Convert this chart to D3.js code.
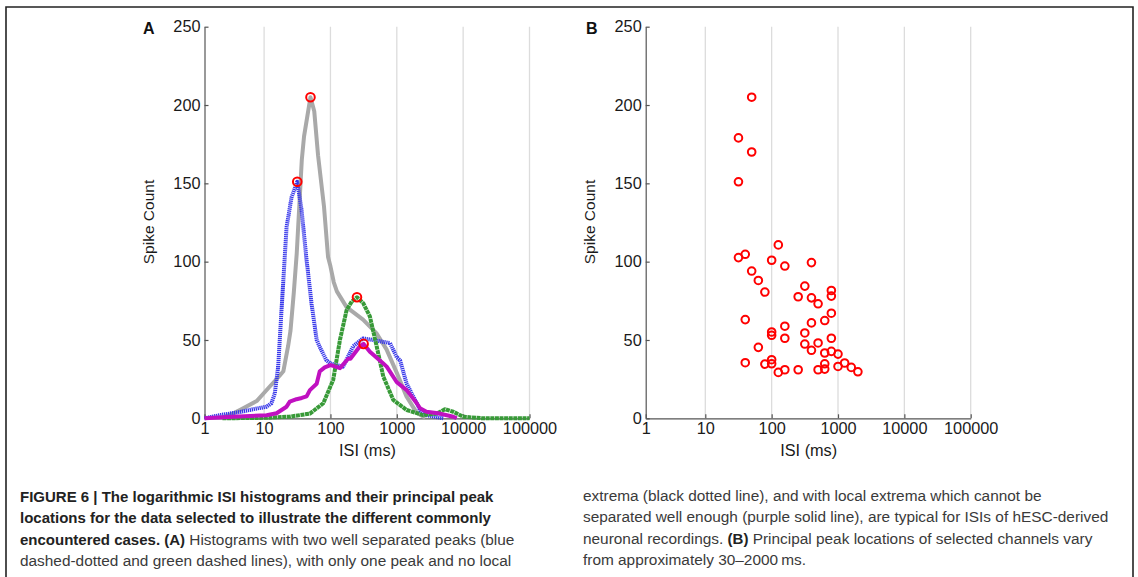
<!DOCTYPE html>
<html>
<head>
<meta charset="utf-8">
<script src="https://cdn.jsdelivr.net/npm/d3@7"></script>
<style>
  body { margin: 0; background: #fff; }
  svg text { font-family: "Liberation Sans", Arial, sans-serif; }
  .caption { font-size: 15.4px; fill: #333; }
</style>
</head>
<body>
<div id="fig"></div>
<script>
// ISI histograms, pairs of [ISI ms, spike count]
var grayCurve = [[2,0.5],[3,3],[4,5.5],[7.5,11],[12,20],[17,27],[19.5,30],[23,46],[25,56],[28,80],[31,105],[37,165],[40,180],[50,205],[57,196],[65,168],[80,135],[92,103],[100,97],[112,87],[125,81],[175,71],[310,63],[500,54],[700,44],[1000,29],[1400,14],[2000,3.5],[2700,0.3]];
var blueCurve = [[1,0],[1.8,2],[3.9,4],[7,6],[10.9,7.4],[12.9,9.6],[14.5,16],[16.3,33],[18.3,69],[21.8,122],[25.9,141],[31.6,151],[36.7,133],[43.7,101],[52,73],[62,50],[70,45],[87,37],[100,35],[125,34],[155,33],[220,46],[310,51],[440,50],[790,48],[1000,39],[1120,37],[1410,22],[2000,9.6],[2250,5],[2800,2],[5000,0]];
var greenCurve = [[2,0],[10,0.3],[24,1],[49,3],[78,9.6],[110,24.5],[139,50],[175,69],[209,74.5],[251,77.3],[312,73.5],[393,65],[497,46],[626,26.6],[885,11.7],[1410,5.3],[2500,2],[4000,3],[5300,5.8],[7100,4.2],[10000,1],[20000,0],[100000,0]];
var purpleCurve = [[1,0],[3,1],[10.9,2],[15.4,3.2],[21.8,7.4],[24.4,10.6],[30.8,12.2],[37,13],[43.7,14],[49,18],[62,22],[69,30],[82,32.5],[100,34],[110,33.4],[139,32],[185,38],[200,38],[278,46],[316,47.5],[393,42.5],[626,35],[705,33],[1000,23],[1410,18],[2000,9.6],[2240,6.4],[2800,4.2],[4200,3.2],[7100,1],[8000,0]];

// principal peaks in panel A
var peaksA = [[50,205],[31.6,151],[251,77.3],[316,47.5]];

// panel B peak locations
var peakISI = [50,31.6,50,31.6,31.6,40,126,100,158,398,50,63,79,316,251,398,501,794,794,794,631,398,40,158,100,100,316,158,794,316,501,398,63,631,794,1000,40,79,100,100,126,158,251,501,631,631,1000,1259,1585,1995];
var peakCount = [205,179,170,151,102.6,104.7,110.7,100.9,97.2,99.4,94,88,80.6,84.4,77.6,76.9,73.1,81.6,78,67.1,62.4,60.9,63,58.8,55.1,53,54.5,51.1,51.1,47.4,48.1,43.4,45.3,41.7,42.7,41,35.5,34.6,37.4,34.8,29.3,31,31,31,34.8,31.4,33.1,35.3,32.5,29.7];

var xTicks = [1,10,100,1000,10000,100000];
var yTicks = [0,50,100,150,200,250];

var svgWidth = 1138;
var svgHeight = 577;
var plotTop = 26.7, plotBottom = 418.3;

var svg = d3.select("#fig")
    .append("svg")
    .attr("width", svgWidth)
    .attr("height", svgHeight);

// frame around the figure
svg.append("path")
    .attr("d", "M6," + svgHeight + "V7H1133V" + svgHeight)
    .attr("fill", "none")
    .attr("stroke", "#222")
    .attr("stroke-width", 1.6);

var yScale = d3.scaleLinear()
    .domain([0, 250])
    .range([plotBottom, plotTop]);

function makePanel(left, letter, labelX) {
    // first decade is a bit narrower in the original figure
    var x = d3.scaleLog()
        .domain([1, 10, 100000])
        .range([left, left + 59.6, left + 325]);

    var g = svg.append("g");

    // vertical grid
    g.selectAll("line.grid")
        .data(xTicks.slice(1))
        .enter()
        .append("line")
        .attr("x1", d => x(d))
        .attr("x2", d => x(d))
        .attr("y1", plotTop)
        .attr("y2", plotBottom)
        .attr("stroke", "#dcdcdc")
        .attr("stroke-width", 1.3);

    var xAxis = d3.axisBottom(x)
        .tickValues(xTicks)
        .tickFormat(d3.format("d"))
        .tickSizeInner(-4)
        .tickSizeOuter(0)
        .tickPadding(4);
    var yAxis = d3.axisLeft(yScale)
        .tickValues(yTicks)
        .tickSizeInner(-4)
        .tickSizeOuter(0)
        .tickPadding(4);

    var gx = g.append("g")
        .attr("transform", `translate(0, ${plotBottom})`)
        .call(xAxis);
    var gy = g.append("g")
        .attr("transform", `translate(${left}, 0)`)
        .call(yAxis);

    [gx, gy].forEach(a => {
        a.selectAll("path, line").attr("stroke", "#555").attr("stroke-width", 1.2);
        a.selectAll("text").attr("font-size", 16.3).attr("fill", "#1a1a1a")
            .attr("font-family", "'Liberation Sans', Arial, sans-serif");
    });

    g.append("text")
        .attr("x", left + 163)
        .attr("y", 456)
        .attr("text-anchor", "middle")
        .attr("font-size", 16.3)
        .attr("fill", "#1a1a1a")
        .text("ISI (ms)");

    g.append("text")
        .attr("transform", `translate(${left - 51}, 222) rotate(-90)`)
        .attr("text-anchor", "middle")
        .attr("font-size", 15.5)
        .attr("fill", "#1a1a1a")
        .text("Spike Count");

    g.append("text")
        .attr("x", labelX)
        .attr("y", 34)
        .attr("font-size", 16)
        .attr("font-weight", "bold")
        .attr("fill", "#111")
        .text(letter);

    return x;
}

var xA = makePanel(204.5, "A", 143);
var xB = makePanel(645.7, "B", 586);

// histogram lines
var lineA = d3.line()
    .x(d => xA(d[0]))
    .y(d => yScale(d[1]));

var curves = [
    {data: grayCurve, color: "#a9a9a9", dash: null},
    {data: blueCurve, color: "#3838ea", dash: "1.3,0.7"},
    {data: greenCurve, color: "#389a38", dash: "4,0.6"},
    {data: purpleCurve, color: "#c010c0", dash: null}
];

curves.forEach(c => {
    svg.append("path")
        .datum(c.data)
        .attr("d", lineA)
        .attr("fill", "none")
        .attr("stroke", c.color)
        .attr("stroke-width", 4)
        .attr("stroke-linejoin", "round")
        .attr("stroke-dasharray", c.dash);
});

svg.selectAll("circle.peakA")
    .data(peaksA)
    .enter()
    .append("circle")
    .attr("cx", d => xA(d[0]))
    .attr("cy", d => yScale(d[1]))
    .attr("r", 4.3)
    .attr("fill", "none")
    .attr("stroke", "#f00")
    .attr("stroke-width", 2);

// panel B scatter
svg.selectAll("circle.peakB")
    .data(peakISI)
    .enter()
    .append("circle")
    .attr("cx", d => xB(d))
    .attr("cy", (d, i) => yScale(peakCount[i]))
    .attr("r", 3.8)
    .attr("fill", "none")
    .attr("stroke", "#f00")
    .attr("stroke-width", 2);

// caption
var capLeft = [
    [{t: "FIGURE 6 | The logarithmic ISI histograms and their principal peak", b: true}],
    [{t: "locations for the data selected to illustrate the different commonly", b: true}],
    [{t: "encountered cases. (A)", b: true}, {t: " Histograms with two well separated peaks (blue", b: false}],
    [{t: "dashed-dotted and green dashed lines), with only one peak and no local", b: false}]
];
var capRight = [
    [{t: "extrema (black dotted line), and with local extrema which cannot be", b: false}],
    [{t: "separated well enough (purple solid line), are typical for ISIs of hESC-derived", b: false}],
    [{t: "neuronal recordings. ", b: false}, {t: "(B)", b: true}, {t: " Principal peak locations of selected channels vary", b: false}],
    [{t: "from approximately 30\u20132000\u2009ms.", b: false}]
];

function drawCaption(lines, x, y0) {
    lines.forEach((parts, i) => {
        var t = svg.append("text")
            .attr("class", "caption")
            .attr("x", x)
            .attr("y", y0 + i * 21.3);
        parts.forEach(p => {
            t.append("tspan")
                .attr("font-weight", p.b ? "bold" : "normal")
                .attr("font-size", p.b ? 15 : null)
                .attr("fill", p.b ? "#222" : "#3a3a3a")
                .text(p.t);
        });
    });
}

drawCaption(capLeft, 20, 502);
drawCaption(capRight, 583, 501);
</script>
</body>
</html>
